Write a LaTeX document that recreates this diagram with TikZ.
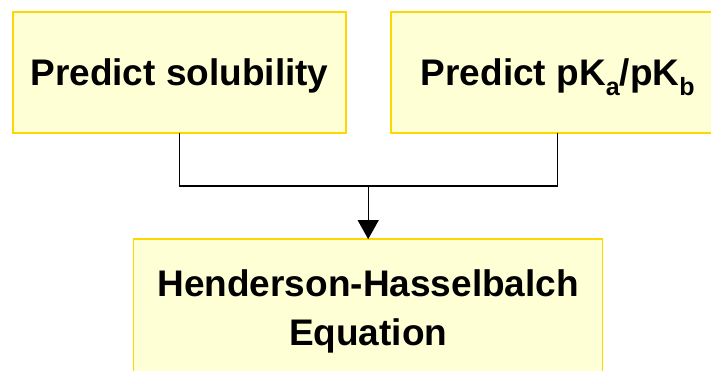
\documentclass[tikz,border=0pt]{standalone}
\usepackage{fontspec}
\setmainfont{Liberation Sans}
\usetikzlibrary{arrows.meta}
\definecolor{boxfill}{HTML}{FFFFD5}
\definecolor{boxline}{HTML}{FFD700}
\tikzset{
  ybox/.style={draw=boxline, fill=boxfill, line width=1.5pt, rectangle, inner sep=0pt, outer sep=0pt,
    font=\fontsize{37}{49}\selectfont\bfseries, align=center},
  conn/.style={draw=black, line width=1.1pt},
}
\newcommand{\subs}[1]{\raisebox{-10pt}{\fontsize{25}{25}\selectfont #1}}
\begin{document}
\begin{tikzpicture}[x=1pt,y=-1pt]
\useasboundingbox (0,0) rectangle (711,371);
\clip (0,0) rectangle (711,371);
\node[ybox, minimum width=333pt, minimum height=121pt, text height=26pt, text depth=0pt] (L) at (179.5,72.5) {Predict solubility};
\node[ybox, minimum width=333pt, minimum height=121pt, text height=26pt, text depth=0pt] (R) at (557.7,72.5) {Predict pK\subs{a}/pK\subs{b}};
\node[ybox, minimum width=469pt, minimum height=145pt] (H) at (368.2,311.6) {Henderson-Hasselbalch\\Equation};
\coordinate (j) at (368.2,186);
\draw[conn] (L.south) |- (j) -| (R.south);
\draw[conn, -{Triangle[length=19pt,width=21pt]}] (j) -- (H.north);
\end{tikzpicture}
\end{document}
